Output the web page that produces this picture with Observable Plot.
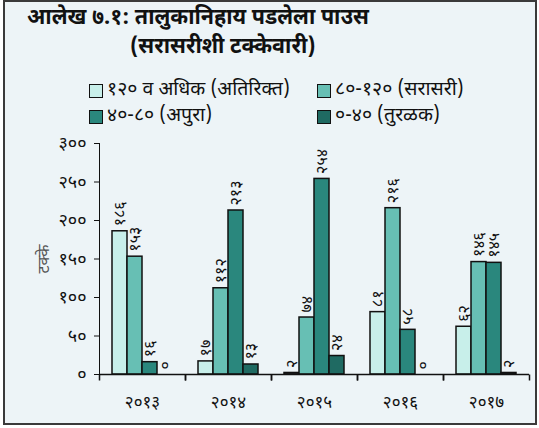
<!DOCTYPE html>
<html>
<head>
<meta charset="utf-8">
<script src="https://cdn.jsdelivr.net/npm/d3@7"></script>
<script src="https://cdn.jsdelivr.net/npm/@observablehq/plot@0.6"></script>
<style>
  body { margin: 0; background: #ffffff; font-family: "Noto Sans Devanagari", "Lohit Devanagari", "Mukta", "Noto Sans", sans-serif; color: #111; }
  #box { position: absolute; left: 3px; top: 0px; width: 530px; height: 421px; border: 2px solid #3a3a3a; background: #edf4f7; }
  .t { position: absolute; font-weight: bold; font-size: 21.5px; line-height: 28px; white-space: nowrap; color: #111; }
  .lg { position: absolute; font-size: 19.5px; line-height: 24px; white-space: nowrap; display: flex; align-items: center; }
  .sw { display: inline-block; width: 12px; height: 12px; border: 1.5px solid #111; margin-right: 4px; }
  #chart { position: absolute; left: 0; top: 130px; }
  #chart svg g[aria-label="y-axis tick label"] text { font-size: 18px; }
  #chart svg g[aria-label="y-axis label"] text { fill: #555; font-size: 16px; }
</style>
</head>
<body>
<div id="box"></div>
<div class="t" id="t1" style="left:27px; top:5px;"></div>
<div class="t" id="t2" style="left:130px; top:34px;"></div>
<div id="legend"></div>
<div id="chart"></div>
<script>
const titleLine1 = "आलेख ७.१: तालुकानिहाय पडलेला पाउस";
const titleLine2 = "(सरासरीशी टक्केवारी)";
const yLabel = "टक्के";

const years = ["2013", "2014", "2015", "2016", "2017"];
const yearLabels = ["२०१३", "२०१४", "२०१५", "२०१६", "२०१७"];
const categories = ["१२० व अधिक (अतिरिक्त)", "८०-१२० (सरासरी)", "४०-८० (अपुरा)", "०-४० (तुरळक)"];
const colors = ["#c8efea", "#67bfb4", "#2a877d", "#1f6a62"];

const excess    = [186, 17, 2, 81, 62];
const normal    = [153, 112, 74, 216, 146];
const deficient = [16, 213, 254, 58, 145];
const scanty    = [0, 13, 24, 0, 2];

const yTicks = [0, 50, 100, 150, 200, 250, 300];
const yTickLabels = ["०", "५०", "१००", "१५०", "२००", "२५०", "३००"];
const devDigits = "०१२३४५६७८९";
const toDev = n => String(n).replace(/\d/g, d => devDigits[+d]);

document.getElementById("t1").textContent = titleLine1;
document.getElementById("t2").textContent = titleLine2;

// legend
const legendPos = [[89, 79], [317, 79], [89, 105], [317, 105]];
const legend = document.getElementById("legend");
categories.forEach((c, i) => {
  const d = document.createElement("div");
  d.className = "lg";
  d.style.left = legendPos[i][0] + "px";
  d.style.top = legendPos[i][1] + "px";
  const s = document.createElement("span");
  s.className = "sw";
  s.style.background = colors[i];
  d.appendChild(s);
  d.appendChild(document.createTextNode(c));
  legend.appendChild(d);
});

const series = [excess, normal, deficient, scanty];
const rows = [];
years.forEach((y, yi) => {
  categories.forEach((c, ci) => {
    rows.push({year: y, cat: c, value: series[ci][yi], label: toDev(series[ci][yi])});
  });
});

const tickSymbol = { draw(ctx) { ctx.moveTo(0, 0); ctx.lineTo(0, 6); } };

const plot = Plot.plot({
  width: 539,
  height: 290,
  marginLeft: 97,
  marginRight: 9,
  marginTop: 13,
  marginBottom: 46,
  style: { background: "transparent", fontSize: "17px", fontFamily: "\"Noto Sans Devanagari\", \"Lohit Devanagari\", \"Noto Sans\", sans-serif", color: "#111", overflow: "visible" },
  fx: { domain: years, padding: 0, axis: "bottom", tickSize: 0, tickPadding: 21, label: null,
        tickFormat: d => yearLabels[years.indexOf(d)] },
  x: { domain: categories, paddingInner: 0, paddingOuter: 0.7, axis: null },
  y: { domain: [0, 300], ticks: yTicks, tickFormat: d => yTickLabels[yTicks.indexOf(d)],
       tickSize: 5, tickPadding: 8, line: true, label: yLabel, labelArrow: "none", labelAnchor: "center", labelOffset: 62 },
  color: { domain: categories, range: colors },
  marks: [
    Plot.barY(rows, { fx: "year", x: "cat", y: "value", fill: "cat", stroke: "#111", strokeWidth: 1.5 }),
    Plot.text(rows, { fx: "year", x: "cat", y: "value", text: "label", rotate: -90, textAnchor: "start", dy: -5, fontSize: 16 }),
    Plot.ruleY([0], { stroke: "#111", strokeWidth: 1.5 }),
    Plot.dot([0], { x: null, y: null, frameAnchor: "bottom-left", symbol: tickSymbol, stroke: "#111", strokeWidth: 1.5, fill: "none" }),
    Plot.dot([0], { x: null, y: null, frameAnchor: "bottom-right", symbol: tickSymbol, stroke: "#111", strokeWidth: 1.5, fill: "none" })
  ]
});
document.getElementById("chart").appendChild(plot);
</script>
</body>
</html>
